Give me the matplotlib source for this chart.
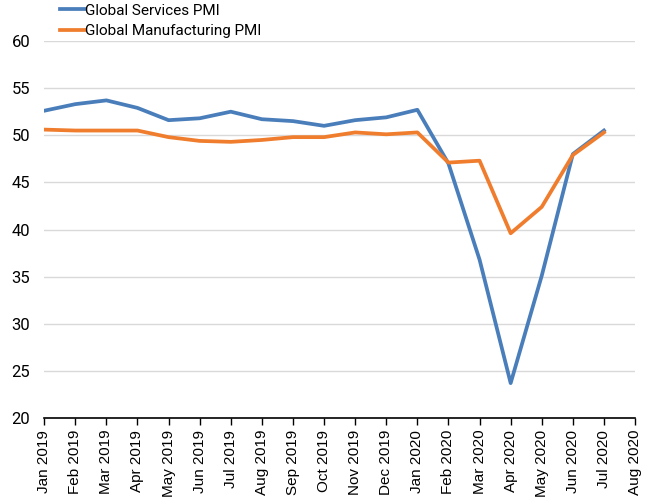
import numpy as np
import matplotlib
matplotlib.use('Agg')
import matplotlib.pyplot as plt

plt.rcParams['font.family'] = ['Roboto', 'DejaVu Sans']

months = ['Jan 2019', 'Feb 2019', 'Mar 2019', 'Apr 2019', 'May 2019', 'Jun 2019',
          'Jul 2019', 'Aug 2019', 'Sep 2019', 'Oct 2019', 'Nov 2019', 'Dec 2019',
          'Jan 2020', 'Feb 2020', 'Mar 2020', 'Apr 2020', 'May 2020', 'Jun 2020',
          'Jul 2020', 'Aug 2020']

services = [52.6, 53.3, 53.7, 52.9, 51.6, 51.8, 52.5, 51.7, 51.5, 51.0,
            51.6, 51.9, 52.7, 47.0, 36.8, 23.7, 35.1, 48.0, 50.5]
manufacturing = [50.6, 50.5, 50.5, 50.5, 49.8, 49.4, 49.3, 49.5, 49.8, 49.8,
                 50.3, 50.1, 50.3, 47.1, 47.3, 39.6, 42.4, 47.9, 50.3]

fig = plt.figure(figsize=(6.5, 5), dpi=100)
ax = fig.add_axes([0.068, 0.164, 0.909, 0.754])

x = np.arange(len(months))
ax.plot(x[:len(services)], services, color='#4a7ebb', lw=2.7, label='Global Services PMI')
ax.plot(x[:len(manufacturing)], manufacturing, color='#ef7d2d', lw=2.7, label='Global Manufacturing PMI')

ax.set_xlim(0, len(months) - 1)
ax.set_ylim(20, 60)
ax.set_yticks(np.arange(20, 61, 5))
ax.set_xticks(x)
ax.set_xticklabels(months, rotation=90, fontsize=11, family=['Liberation Sans', 'DejaVu Sans'])
ax.tick_params(axis='y', length=0, pad=10, labelsize=12)
ax.tick_params(axis='x', length=5, width=1, color='black', direction='out')

ax.grid(axis='y', color='#d9d9d9', lw=1)
ax.set_axisbelow(True)
for s in ['top', 'right', 'left']:
    ax.spines[s].set_visible(False)
ax.spines['bottom'].set_color('black')
ax.spines['bottom'].set_linewidth(1.2)
ax.spines['bottom'].set_zorder(5)

fig.legend(loc='upper left', bbox_to_anchor=(0.083, 1.005), frameon=False,
           fontsize=11, handlelength=1.6, handletextpad=0.0, labelspacing=0.45,
           borderaxespad=0)

fig.savefig('out.png', dpi=100)
